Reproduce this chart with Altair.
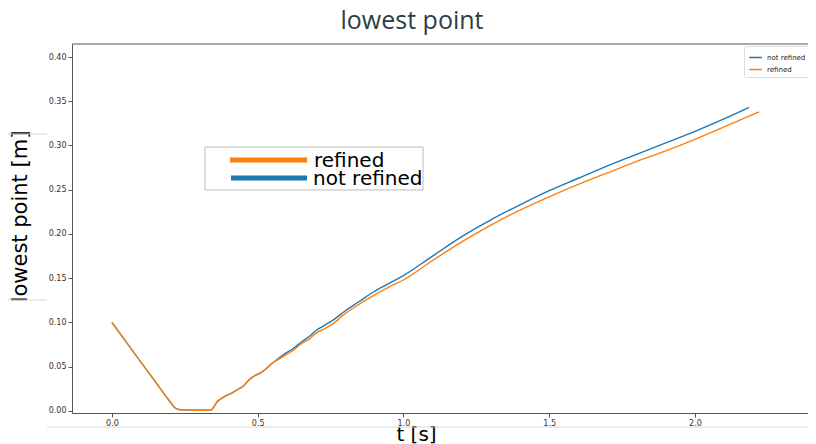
import altair as alt
import pandas as pd

# ---- data ----
t_not_refined = [0.0, 0.05, 0.10, 0.15, 0.19, 0.205, 0.215, 0.225, 0.25, 0.30, 0.34,
                 0.35, 0.36, 0.37, 0.39, 0.41, 0.43, 0.45, 0.47, 0.49, 0.51, 0.53, 0.55,
                 0.57, 0.59, 0.62, 0.65, 0.68, 0.70, 0.73, 0.76, 0.80, 0.85, 0.90, 0.95,
                 1.00, 1.10, 1.20, 1.30, 1.40, 1.50, 1.60, 1.70, 1.80, 1.90, 2.00, 2.10, 2.186]
v_not_refined = [0.100, 0.0775, 0.055, 0.0325, 0.0145, 0.008, 0.004, 0.002, 0.0012, 0.0008, 0.0008,
                 0.005, 0.010, 0.013, 0.017, 0.020, 0.024, 0.028, 0.035, 0.040, 0.043, 0.048, 0.054,
                 0.059, 0.064, 0.070, 0.078, 0.085, 0.091, 0.097, 0.103, 0.113, 0.124, 0.135, 0.144,
                 0.153, 0.175, 0.197, 0.216, 0.233, 0.249, 0.263, 0.277, 0.290, 0.303, 0.316, 0.330, 0.343]

t_refined = [0.0, 0.05, 0.10, 0.15, 0.19, 0.205, 0.215, 0.225, 0.25, 0.30, 0.34,
             0.35, 0.36, 0.37, 0.39, 0.41, 0.43, 0.45, 0.47, 0.49, 0.51, 0.53, 0.55,
             0.57, 0.59, 0.62, 0.65, 0.68, 0.70, 0.73, 0.76, 0.80, 0.85, 0.90, 0.95,
             1.00, 1.10, 1.20, 1.30, 1.40, 1.50, 1.60, 1.70, 1.80, 1.90, 2.00, 2.10, 2.22]
v_refined = [0.100, 0.0775, 0.055, 0.0325, 0.0145, 0.008, 0.004, 0.002, 0.0012, 0.0008, 0.0008,
             0.005, 0.010, 0.013, 0.017, 0.020, 0.024, 0.028, 0.035, 0.040, 0.043, 0.048, 0.054,
             0.058, 0.062, 0.068, 0.076, 0.082, 0.088, 0.093, 0.099, 0.110, 0.121, 0.131, 0.140,
             0.148, 0.170, 0.191, 0.210, 0.227, 0.242, 0.256, 0.269, 0.282, 0.294, 0.307, 0.321, 0.338]

series_names = ["not refined", "refined"]
series_colors = ["#1f77b4", "#ff7f0e"]
x_ticks = [0.0, 0.5, 1.0, 1.5, 2.0]
y_ticks = [0.0, 0.05, 0.10, 0.15, 0.20, 0.25, 0.30, 0.35, 0.40]
title_text = "lowest point"

df = pd.concat([
    pd.DataFrame({"t": t_not_refined, "v": v_not_refined, "series": series_names[0]}),
    pd.DataFrame({"t": t_refined, "v": v_refined, "series": series_names[1]}),
], ignore_index=True)

W, H = 736, 369
one = pd.DataFrame({"k": [0]})

lines = alt.Chart(df).mark_line(strokeWidth=1.4, interpolate="monotone").encode(
    x=alt.X("t:Q",
            scale=alt.Scale(domain=[-0.137, 2.388], nice=False, zero=False),
            axis=alt.Axis(values=x_ticks, format=".1f", title="t [s]",
                          titleX=344, titleY=27, titleAlign="center",
                          titleBaseline="alphabetic", titleFontSize=20,
                          labelPadding=2)),
    y=alt.Y("v:Q",
            scale=alt.Scale(domain=[-0.0023, 0.4147], nice=False, zero=False),
            axis=alt.Axis(values=y_ticks, format=".2f", title="lowest point [m]",
                          titleX=-46, titleY=172, titleAngle=270, titleAlign="center",
                          titleBaseline="alphabetic", titleFontSize=21,
                          labelPadding=2)),
    color=alt.Color("series:N",
                    scale=alt.Scale(domain=series_names, range=series_colors),
                    legend=alt.Legend(title=None, orient="none", legendX=672, legendY=2,
                                      symbolType="stroke", symbolStrokeWidth=1.5,
                                      symbolSize=160, labelFontSize=7,
                                      labelFont="DejaVu Sans", labelColor="#222",
                                      fillColor="white", strokeColor="#ddd",
                                      padding=4, rowPadding=1, cornerRadius=2)),
)

title_mark = alt.Chart(one).mark_text(text=title_text, font="Open Sans", fontSize=25,
                                      align="center", baseline="alphabetic",
                                      color="#2c3e45").encode(
    x=alt.value(340), y=alt.value(-15))

top_spine = alt.Chart(one).mark_rule(color="#555", strokeWidth=1).encode(
    x=alt.value(0), x2=alt.value(W), y=alt.value(0))

deco_bottom = alt.Chart(one).mark_rule(color="#d8d8d8", strokeWidth=1).encode(
    x=alt.value(-25), x2=alt.value(W), y=alt.value(383))
deco_l1 = alt.Chart(one).mark_rule(color="#d8d8d8", strokeWidth=1).encode(
    x=alt.value(-64), x2=alt.value(-25), y=alt.value(90))
deco_l2 = alt.Chart(one).mark_rule(color="#d8d8d8", strokeWidth=1).encode(
    x=alt.value(-64), x2=alt.value(-25), y=alt.value(256))

# inline big legend box
box = alt.Chart(one).mark_rect(fill="white", stroke="#bbb", strokeWidth=1).encode(
    x=alt.value(133), x2=alt.value(351), y=alt.value(103), y2=alt.value(146))
leg_or = alt.Chart(one).mark_rule(color=series_colors[1], strokeWidth=5).encode(
    x=alt.value(158), x2=alt.value(235), y=alt.value(116))
leg_bl = alt.Chart(one).mark_rule(color=series_colors[0], strokeWidth=5).encode(
    x=alt.value(159), x2=alt.value(235), y=alt.value(134))
txt_r = alt.Chart(one).mark_text(text=series_names[1], font="DejaVu Sans", fontSize=20,
                                 align="left", baseline="alphabetic", color="black").encode(
    x=alt.value(242), y=alt.value(123))
txt_nr = alt.Chart(one).mark_text(text=series_names[0], font="DejaVu Sans", fontSize=20,
                                  align="left", baseline="alphabetic", color="black").encode(
    x=alt.value(241), y=alt.value(141))

chart = alt.layer(
    deco_bottom, deco_l1, deco_l2, lines, top_spine, box, leg_or, leg_bl, txt_r, txt_nr,
    title_mark
).properties(
    width=W, height=H,
    autosize=alt.AutoSizeParams(type="none"),
    padding={"left": 64, "top": 36, "right": 0, "bottom": 31},
).configure_axis(
    domainColor="#555", tickColor="#555", labelColor="#333",
    labelFont="DejaVu Sans", labelFontSize=8, titleFont="DejaVu Sans",
    titleFontWeight="normal", titleColor="black", grid=False, tickSize=4,
).configure_view(stroke=None)

chart.save("out.html", embed_options={"renderer": "svg", "actions": False})
